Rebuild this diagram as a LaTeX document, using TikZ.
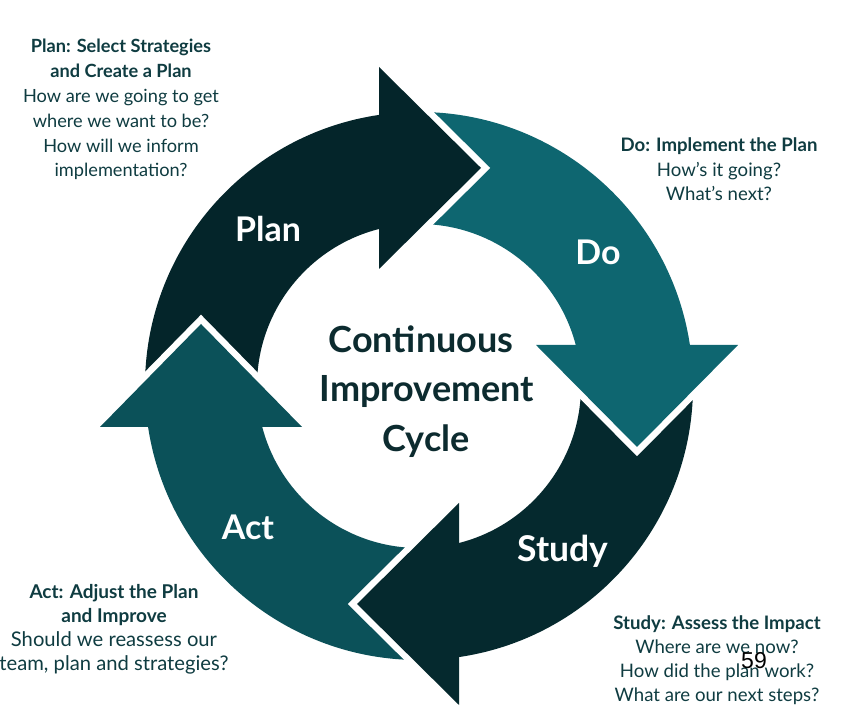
\documentclass[tikz,border=0pt]{standalone}
\usepackage{fontspec}
\setmainfont{Lato}
\newfontfamily\numfont{Liberation Sans}
\usetikzlibrary{calc}
\definecolor{plancol}{HTML}{04252A}
\definecolor{studycol}{HTML}{05292E}
\definecolor{docol}{HTML}{0E6670}
\definecolor{actcol}{HTML}{0B5159}
\definecolor{txtcol}{HTML}{0F3C41}
\definecolor{titlecol}{HTML}{0C2B2F}
\tikzset{
  gapline/.style={draw=white,line width=13pt,line join=miter},
  steplabel/.style={text=white,font=\bfseries\fontsize{34}{40}\selectfont,anchor=base,inner sep=0pt},
  titleline/.style={text=titlecol,font=\bfseries\fontsize{36}{44}\selectfont,anchor=base,inner sep=0pt},
  desc/.style={text=txtcol,align=center,anchor=base,inner sep=0pt},
}
\newcommand{\band}[3]{% colour, start angle, end angle
  \fill[#1] ($(C)+(#2:274)$) arc[start angle=#2,end angle=#3,radius=274]
    -- ($(C)+(#3:162)$) arc[start angle=#3,end angle=#2,radius=162] -- cycle;}
\begin{document}
\begin{tikzpicture}[x=1pt,y=1pt]
\useasboundingbox (0,0) rectangle (846,708);
\fill[white] (0,0) rectangle (846,708);
\coordinate (C) at (419,322);
% bands
\band{plancol}{183}{97}
\band{docol}{93}{7}
\band{studycol}{3}{-83}
\band{actcol}{-87}{-173}
% heads
\begin{scope}[shift={(C)}]
  \draw[gapline] (-40,319) -- (62,218) -- (-40,117);
  \fill[plancol] (-40,319) -- (62,218) -- (-40,117) -- cycle;
  \draw[gapline] (319,41) -- (218,-61) -- (117,41);
  \fill[docol] (319,41) -- (218,-61) -- (117,41) -- cycle;
  \draw[gapline] (40,-117) -- (-62,-218) -- (40,-319);
  \fill[studycol] (40,-117) -- (-62,-218) -- (40,-319) -- cycle;
  \draw[gapline] (-319,-41) -- (-218,62) -- (-117,-41);
  \fill[actcol] (-319,-41) -- (-218,62) -- (-117,-41) -- cycle;
\end{scope}
% labels
\node[steplabel] (lplan) at (268,466) {Plan};
\node[steplabel] (ldo) at (598,443) {Do};
\node[steplabel,font=\bfseries\fontsize{35.5}{40}\selectfont] (lstudy) at (563,146) {Study};
\node[steplabel] (lact) at (248,168) {Act};
% title
\node[titleline] (t1) at (421,355) {Continuous};
\node[titleline] (t2) at (427,306) {Improvement};
\node[titleline] (t3) at (426,256) {Cycle};
% descriptions
\node[desc,font=\fontsize{18.2}{24.9}\selectfont] (dplan) at (121,531) {\textbf{Plan: Select Strategies}\\\textbf{and Create a Plan}\\How are we going to get\\where we want to be?\\How will we inform\\implementation?};
\node[desc,font=\fontsize{18.6}{24.5}\selectfont] (ddo) at (719,507) {\textbf{Do: Implement the Plan}\\How’s it going?\\What’s next?};
\node[desc,font=\fontsize{20.2}{24.2}\selectfont] (dact) at (114,37) {\textbf{\fontsize{19}{24.2}\selectfont Act: Adjust the Plan}\\\textbf{\fontsize{19}{24.2}\selectfont and Improve}\\Should we reassess our\\team, plan and strategies?};
\node[desc,font=\fontsize{18.6}{24.3}\selectfont] (dstudy) at (717,6) {\textbf{Study: Assess the Impact}\\Where are we now?\\How did the plan work?\\What are our next steps?};
\node[text=black,font=\numfont\fontsize{23}{26}\selectfont,inner sep=0pt] (pg) at (754,47) {59};
\end{tikzpicture}
\end{document}
